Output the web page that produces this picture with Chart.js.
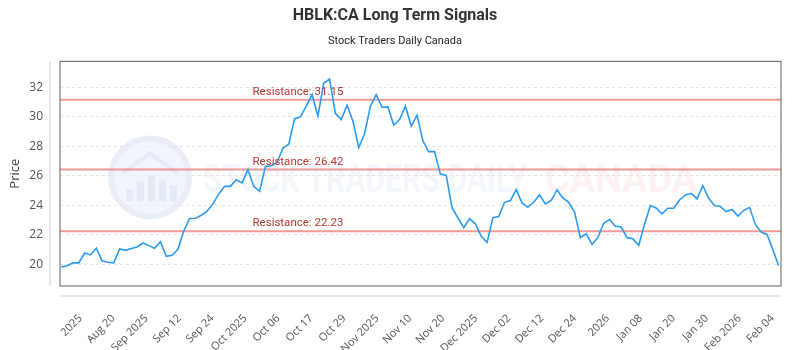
<!DOCTYPE html>
<html lang="en">

<head>
    <meta charset="UTF-8">
    <title>HBLK:CA Long Term Signals</title>
    <script src="https://cdn.jsdelivr.net/npm/chart.js"></script>
    <style>
        html, body { margin: 0; padding: 0; background: #fff; }
        .chart-box { width: 800px; height: 350px; }
    </style>
</head>

<body>
    <div class="chart-box">
        <canvas id="chart1"></canvas>
    </div>

<script>
    // closing prices, one per trading day
    const prices = [
        19.82, 19.89, 20.09, 20.09, 20.76, 20.63, 21.08, 20.22, 20.13, 20.09,
        21.03, 20.94, 21.06, 21.17, 21.44, 21.26, 21.08, 21.53, 20.54, 20.61,
        21.01, 22.25, 23.10, 23.12, 23.32, 23.60, 24.09, 24.77, 25.28, 25.28,
        25.73, 25.51, 26.41, 25.28, 24.94, 26.63, 26.68, 26.90, 27.87, 28.14,
        29.86, 30.00, 30.72, 31.51, 30.05, 32.29, 32.56, 30.23, 29.82, 30.79,
        29.71, 27.91, 28.85, 30.72, 31.51, 30.65, 30.67, 29.44, 29.82, 30.72,
        29.37, 30.11, 28.36, 27.64, 27.64, 26.11, 26.02, 23.82, 23.15, 22.47,
        23.08, 22.74, 21.89, 21.48, 23.15, 23.24, 24.20, 24.32, 25.06, 24.16,
        23.86, 24.20, 24.70, 24.09, 24.32, 25.04, 24.50, 24.20, 23.53, 21.80,
        22.07, 21.35, 21.80, 22.78, 23.03, 22.58, 22.52, 21.80, 21.73, 21.28,
        22.70, 23.98, 23.82, 23.42, 23.80, 23.80, 24.36, 24.70, 24.81, 24.43,
        25.33, 24.47, 23.98, 23.91, 23.57, 23.71, 23.26, 23.64, 23.86, 22.70,
        22.18, 22.02, 20.99, 19.89
    ];

    const tickLabels = ['2025', 'Aug 20', 'Sep 2025', 'Sep 12', 'Sep 24', 'Oct 2025', 'Oct 06',
        'Oct 17', 'Oct 29', 'Nov 2025', 'Nov 10', 'Nov 20', 'Dec 2025', 'Dec 02', 'Dec 12',
        'Dec 24', '2026', 'Jan 08', 'Jan 20', 'Jan 30', 'Feb 2026', 'Feb 04'];

    const resistanceLevels = [31.15, 26.42, 22.23];
    const yTicks = [20, 22, 24, 26, 28, 30, 32];

    // x axis is the trading day index, labels sit at even spacing
    const xMin = -0.22, xMax = 123.4;
    const firstTick = 3.3, tickStep = 5.65;
    const xTickValues = tickLabels.map((_, i) => firstTick + i * tickStep);

    const priceSet = {
        label: 'Price',
        data: prices.map((v, i) => ({ x: i, y: v })),
        borderColor: '#2b9bf2',
        borderWidth: 1.6,
        pointRadius: 0,
        tension: 0,
        order: 0
    };

    const resistanceSets = resistanceLevels.map(level => ({
        label: 'Resistance: ' + level.toFixed(2),
        data: [{ x: xMin, y: level }, { x: xMax, y: level }],
        borderColor: 'rgba(238, 100, 92, 0.65)',
        borderWidth: 2,
        pointRadius: 0,
        order: 1
    }));

    // watermark, frame, axis lines, resistance labels
    const decor = {
        id: 'decor',
        beforeDatasetsDraw(chart) {
            const { ctx, chartArea: a } = chart;
            ctx.save();
            // logo
            const cx = a.left + 90, cy = a.top + 116;
            ctx.fillStyle = 'rgba(236, 241, 249, 0.7)';
            ctx.beginPath(); ctx.arc(cx, cy, 36, 0, Math.PI * 2); ctx.fill();
            ctx.strokeStyle = 'rgba(222, 230, 243, 0.7)';
            ctx.lineWidth = 6;
            ctx.beginPath(); ctx.arc(cx, cy, 39, 0, Math.PI * 2); ctx.stroke();
            ctx.fillStyle = 'rgba(222, 230, 243, 0.75)';
            [[-24, 12], [-13, 20], [-2, 26], [9, 22], [20, 16]].forEach(([dx, h]) => {
                ctx.fillRect(cx + dx, cy + 24 - h, 7, h);
            });
            ctx.beginPath();
            ctx.moveTo(cx - 28, cy - 4); ctx.lineTo(cx, cy - 24); ctx.lineTo(cx + 28, cy - 4);
            ctx.lineWidth = 4; ctx.stroke();

            // text
            ctx.textBaseline = 'alphabetic';
            ctx.font = 'bold 38px Roboto';
            const t1 = 'STOCK TRADERS DAILY';
            ctx.save();
            ctx.translate(a.left + 143, a.top + 131);
            ctx.scale(324 / ctx.measureText(t1).width, 1);
            ctx.fillStyle = 'rgba(222, 231, 243, 0.35)';
            ctx.fillText(t1, 0, 0);
            ctx.restore();
            const t2 = 'CANADA';
            ctx.save();
            ctx.translate(a.left + 485, a.top + 131);
            ctx.scale(152 / ctx.measureText(t2).width, 1);
            ctx.fillStyle = 'rgba(253, 215, 215, 0.35)';
            ctx.fillText(t2, 0, 0);
            ctx.restore();
            ctx.restore();
        },
        afterDatasetsDraw(chart) {
            const { ctx, chartArea: a, scales: { y } } = chart;
            ctx.save();
            ctx.font = '11.5px Roboto';
            ctx.fillStyle = '#b23a32';
            ctx.textBaseline = 'alphabetic';
            resistanceLevels.forEach(level => {
                ctx.fillText('Resistance: ' + level.toFixed(2), a.left + 0.267 * (a.right - a.left), y.getPixelForValue(level) - 5);
            });
            // frame
            ctx.strokeStyle = '#7a7a7a';
            ctx.lineWidth = 1.2;
            ctx.strokeRect(a.left, a.top, a.right - a.left, a.bottom - a.top);
            // detached axis lines
            ctx.strokeStyle = '#cfcfcf';
            ctx.lineWidth = 1;
            ctx.beginPath();
            ctx.moveTo(a.left - 10, a.top); ctx.lineTo(a.left - 10, a.bottom);
            ctx.moveTo(a.left, a.bottom + 10); ctx.lineTo(a.right, a.bottom + 10);
            ctx.stroke();
            ctx.restore();
        }
    };

    Chart.defaults.font.family = "'Open Sans', sans-serif";

    new Chart(document.getElementById('chart1'), {
        type: 'line',
        data: { datasets: [priceSet, ...resistanceSets] },
        options: {
            responsive: true,
            maintainAspectRatio: false,
            animation: false,
            layout: { padding: { left: 0, right: 10, top: 0, bottom: 0 } },
            plugins: {
                legend: { display: false },
                tooltip: { enabled: false },
                title: {
                    display: true,
                    text: 'HBLK:CA Long Term Signals',
                    color: '#333',
                    font: { family: 'Roboto', size: 16, weight: 'bold' },
                    padding: { top: 6, bottom: 6 }
                },
                subtitle: {
                    display: true,
                    text: 'Stock Traders Daily Canada',
                    color: '#222',
                    font: { family: 'Roboto', size: 11 },
                    padding: { top: 3, bottom: 14 }
                }
            },
            scales: {
                x: {
                    type: 'linear',
                    min: xMin,
                    max: xMax,
                    afterBuildTicks: s => { s.ticks = xTickValues.map(v => ({ value: v })); },
                    afterFit: s => { s.height = 64; },
                    grid: { display: false },
                    border: { display: false },
                    ticks: {
                        autoSkip: false,
                        minRotation: 45,
                        maxRotation: 45,
                        padding: 18,
                        color: '#555',
                        font: { size: 11 },
                        callback: (v, i) => tickLabels[i]
                    }
                },
                y: {
                    min: 18.52,
                    max: 33.76,
                    afterBuildTicks: s => { s.ticks = yTicks.map(v => ({ value: v })); },
                    afterFit: s => { s.width = 60; },
                    grid: { color: '#e4e4e4', drawTicks: false },
                    border: { display: false, dash: [3, 3] },
                    ticks: {
                        padding: 17,
                        color: '#555',
                        font: { size: 12 }
                    },
                    title: {
                        display: true,
                        text: 'Price',
                        color: '#444',
                        font: { size: 13 },
                        padding: { top: 7, bottom: 0 }
                    }
                }
            }
        },
        plugins: [decor]
    });
</script>
</body>

</html>
